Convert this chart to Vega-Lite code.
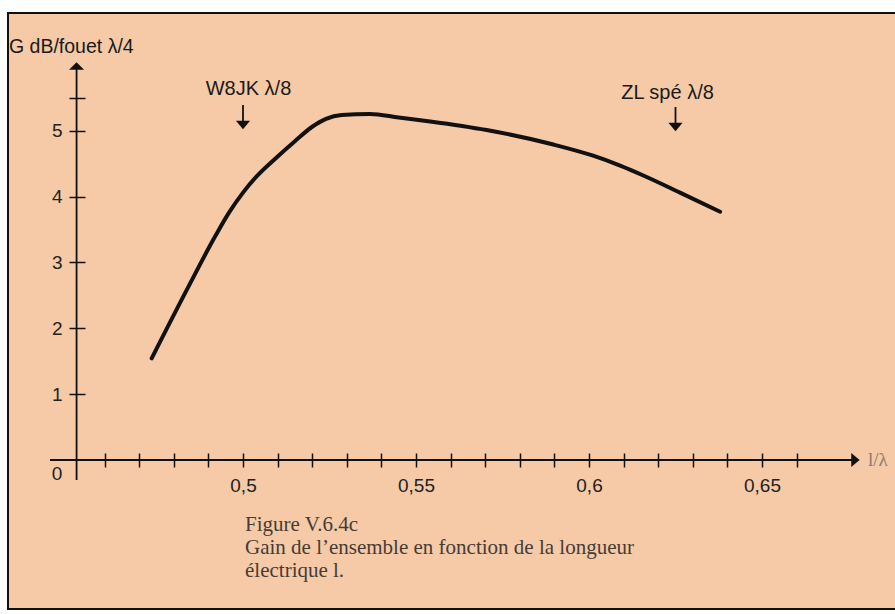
{
  "$schema": "https://vega.github.io/schema/vega-lite/v6.json",
  "autosize": "none",
  "width": 887,
  "height": 596,
  "padding": {"left": 8, "top": 13, "right": 0, "bottom": 5},
  "background": "white",
  "config": {
    "view": {"fill": "#f6caa6", "stroke": "#111111", "strokeWidth": 2, "strokeDash": [887, 596, 1490]},
    "text": {"font": "Liberation Sans", "color": "#1a1a1a"}
  },
  "datasets": {
    "curve": [
      {"x": 0.4736, "y": 1.544},
      {"x": 0.4845, "y": 2.66},
      {"x": 0.4920, "y": 3.40},
      {"x": 0.4960, "y": 3.76},
      {"x": 0.5000, "y": 4.06},
      {"x": 0.5040, "y": 4.31},
      {"x": 0.5090, "y": 4.56},
      {"x": 0.5150, "y": 4.84},
      {"x": 0.5200, "y": 5.06},
      {"x": 0.5240, "y": 5.18},
      {"x": 0.5285, "y": 5.237},
      {"x": 0.5367, "y": 5.254},
      {"x": 0.5450, "y": 5.20},
      {"x": 0.5541, "y": 5.14},
      {"x": 0.5704, "y": 5.01},
      {"x": 0.5897, "y": 4.79},
      {"x": 0.6012, "y": 4.62},
      {"x": 0.6090, "y": 4.47},
      {"x": 0.6157, "y": 4.32},
      {"x": 0.6263, "y": 4.06},
      {"x": 0.6379, "y": 3.77}
    ],
    "axisLines": [
      {"x": 0.44422, "x2": 0.67774, "y": 0, "y2": 0},
      {"x": 0.4519, "x2": 0.4519, "y": -0.3037, "y2": 5.95}
    ],
    "stems": [
      {"x": 0.5, "y": 5.39, "y2": 5.12},
      {"x": 0.625, "y": 5.36, "y2": 5.09}
    ],
    "headsDown": [
      {"x": 0.5, "y": 5.087},
      {"x": 0.625, "y": 5.056}
    ],
    "headUp": [{"x": 0.4519, "y": 5.982}],
    "headRight": [{"x": 0.677, "y": 0}],
    "notes": [
      {"x": 0.50159, "y": 5.633, "text": "W8JK λ/8"},
      {"x": 0.62269, "y": 5.5724, "text": "ZL spé λ/8"}
    ],
    "zero": [{"x": 0.44624, "y": -0.2126, "text": "0"}],
    "ytitle": [{"x": 0.43237, "y": 6.2709, "text": "G dB/fouet  λ/4"}],
    "xtitle": [{"x": 0.6806, "y": 0, "text": "l/λ"}],
    "caption": [
      {"x": 0.50058, "y": -1.078, "text": "Figure V.6.4c"},
      {"x": 0.50058, "y": -1.4273, "text": "Gain de l’ensemble en fonction de la longueur"},
      {"x": 0.50058, "y": -1.7765, "text": "électrique l."}
    ]
  },
  "encoding": {
    "x": {
      "field": "x",
      "type": "quantitative",
      "scale": {"domain": [0.432081, 0.688439], "nice": false, "zero": false},
      "axis": {
        "values": [0.46, 0.47, 0.48, 0.49, 0.5, 0.51, 0.52, 0.53, 0.54, 0.55, 0.56, 0.57, 0.58, 0.59, 0.6, 0.61, 0.62, 0.63, 0.64, 0.65, 0.66],
        "labelExpr": "datum.value == 0.5 ? '0,5' : datum.value == 0.55 ? '0,55' : datum.value == 0.6 ? '0,6' : datum.value == 0.65 ? '0,65' : ''",
        "offset": -156,
        "domain": false,
        "grid": false,
        "tickSize": 14,
        "tickWidth": 1.5,
        "tickColor": "#111111",
        "labelFont": "Liberation Sans",
        "labelFontSize": 19,
        "labelColor": "#222222",
        "labelPadding": 9,
        "labelOverlap": false,
        "labelFlush": false,
        "title": null
      }
    },
    "y": {
      "field": "y",
      "type": "quantitative",
      "scale": {"domain": [-2.2624, 6.7871], "nice": false, "zero": false},
      "axis": {
        "values": [1, 2, 3, 4, 5, 5.5],
        "labelExpr": "datum.value == 5.5 ? '' : datum.label",
        "offset": -77,
        "domain": false,
        "grid": false,
        "tickSize": 16,
        "tickWidth": 1.5,
        "tickColor": "#111111",
        "labelFont": "Liberation Sans",
        "labelFontSize": 19,
        "labelColor": "#222222",
        "labelPadding": 7,
        "labelOverlap": false,
        "labelFlush": false,
        "title": null
      }
    }
  },
  "layer": [
    {
      "data": {"name": "axisLines"},
      "mark": {"type": "rule", "color": "#111111", "strokeWidth": 1.8},
      "encoding": {"x2": {"field": "x2"}, "y2": {"field": "y2"}}
    },
    {
      "data": {"name": "stems"},
      "mark": {"type": "rule", "color": "#111111", "strokeWidth": 1.8},
      "encoding": {"y2": {"field": "y2"}}
    },
    {
      "data": {"name": "headsDown"},
      "mark": {"type": "point", "shape": "M-1,-0.6L1,-0.6L0,0.6Z", "size": 200, "filled": true, "color": "#111111", "opacity": 1},
      "encoding": {}
    },
    {
      "data": {"name": "headUp"},
      "mark": {"type": "point", "shape": "M-1,0.5L1,0.5L0,-0.5Z", "size": 225, "filled": true, "color": "#111111", "opacity": 1},
      "encoding": {}
    },
    {
      "data": {"name": "headRight"},
      "mark": {"type": "point", "shape": "M-0.6,-1L0.6,0L-0.6,1Z", "size": 196, "filled": true, "color": "#111111", "opacity": 1},
      "encoding": {}
    },
    {
      "data": {"name": "curve"},
      "mark": {"type": "line", "color": "#111111", "strokeWidth": 4, "strokeCap": "round", "strokeJoin": "round", "interpolate": "monotone"},
      "encoding": {}
    },
    {
      "data": {"name": "notes"},
      "mark": {"type": "text", "fontSize": 20, "align": "center", "baseline": "middle"},
      "encoding": {"text": {"field": "text"}}
    },
    {
      "data": {"name": "zero"},
      "mark": {"type": "text", "fontSize": 19, "align": "center", "baseline": "middle", "color": "#222222"},
      "encoding": {"text": {"field": "text"}}
    },
    {
      "data": {"name": "ytitle"},
      "mark": {"type": "text", "fontSize": 19.5, "align": "left", "baseline": "middle"},
      "encoding": {"text": {"field": "text"}}
    },
    {
      "data": {"name": "xtitle"},
      "mark": {"type": "text", "font": "Liberation Serif", "fontSize": 19, "align": "left", "baseline": "middle", "color": "#8a7b72"},
      "encoding": {"text": {"field": "text"}}
    },
    {
      "data": {"name": "caption"},
      "mark": {"type": "text", "font": "Liberation Serif", "fontSize": 21, "align": "left", "baseline": "alphabetic", "color": "#443c38"},
      "encoding": {"text": {"field": "text"}}
    }
  ]
}
